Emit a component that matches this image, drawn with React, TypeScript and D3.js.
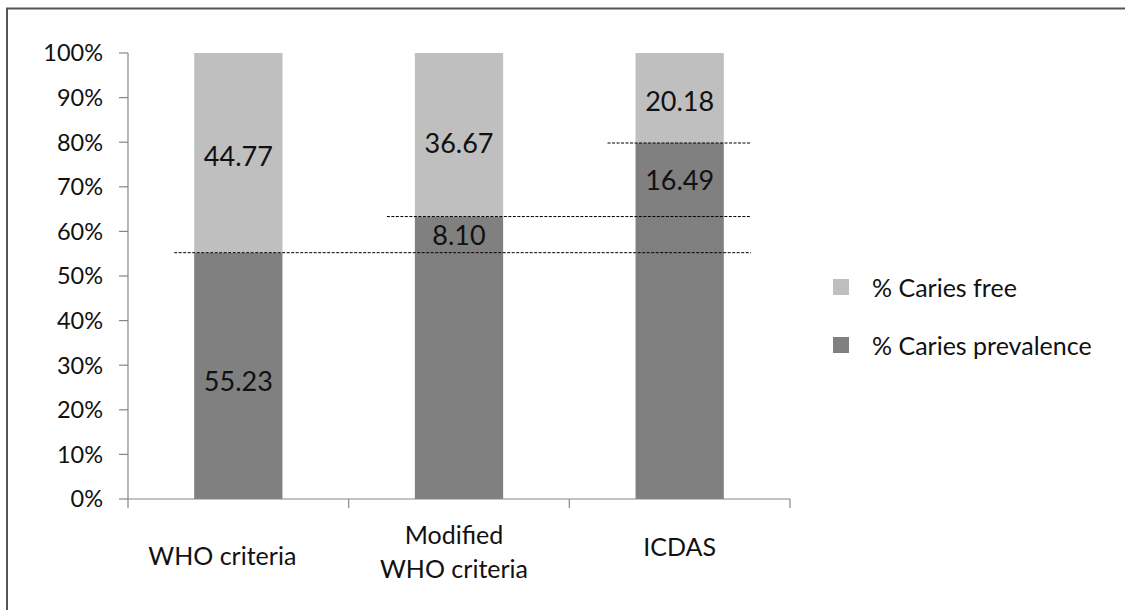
import React from "react";
import * as d3 from "d3";

// Categories (multi-line axis labels)
const categories: string[][] = [["WHO criteria"], ["Modified", "WHO criteria"], ["ICDAS"]];
// Increase in caries prevalence added by each criterion (first is the base value)
const prevalenceIncrements: number[] = [55.23, 8.1, 16.49];
// Caries free percentage for each criterion
const cariesFree: number[] = [44.77, 36.67, 20.18];
// Y tick values (percent)
const yTicks: number[] = [0, 10, 20, 30, 40, 50, 60, 70, 80, 90, 100];
// Legend entries
const legendLabels: string[] = ["% Caries free", "% Caries prevalence"];

const W = 1125;
const H = 610;
const FONT = "Lato, 'Open Sans', sans-serif";
const LIGHT = "#bfbfbf";
const DARK = "#808080";
const AXIS = "#868686";
const TEXT = "#111";

export default function App() {
  const x = d3
    .scaleBand<number>()
    .domain(categories.map((_, i) => i))
    .range([128, 790])
    .paddingInner(0.6)
    .paddingOuter(0.3);
  const step = x.step();
  const y = d3.scaleLinear().domain([0, 100]).range([499, 53]);

  const prevalence = Array.from(d3.cumsum(prevalenceIncrements));
  const prevStart = prevalence.map((v, i) => (i === 0 ? 0 : prevalence[i - 1]));

  // Boundaries of the category bands for the x axis ticks
  const boundaries = d3.range(categories.length + 1).map((i) => 128 + i * step);

  // Label placement tweaks for the category text blocks
  const labelShift = [
    { dx: -16, base: 565 },
    { dx: -5, base: 544 },
    { dx: 0, base: 556 },
  ];

  const xFmt = (v: number) => v.toFixed(2);

  return (
    <svg
      width={W}
      height={H}
      style={{ position: "fixed", left: 0, top: 0, background: "#fff" }}
      fontFamily={FONT}
    >
      {/* outer frame, clipped at the right and bottom */}
      <rect x={7} y={8.5} width={W + 20} height={H + 20} fill="#fff" stroke="#555" strokeWidth={2} />

      {/* bars */}
      {categories.map((_, i) => {
        const bx = x(i)!;
        const bw = x.bandwidth();
        return (
          <g key={"bar" + i}>
            <rect x={bx} y={y(prevalence[i])} width={bw} height={y(0) - y(prevalence[i])} fill={DARK} />
            <rect
              x={bx}
              y={y(prevalence[i] + cariesFree[i])}
              width={bw}
              height={y(prevalence[i]) - y(prevalence[i] + cariesFree[i])}
              fill={LIGHT}
            />
          </g>
        );
      })}

      {/* dashed reference lines at each cumulative prevalence level */}
      {prevalence.map((v, i) => (
        <line
          key={"ref" + i}
          x1={x(i)! - (i === 0 ? 20 : 28)}
          x2={751}
          y1={y(v)}
          y2={y(v)}
          stroke="#000"
          strokeWidth={1}
          strokeDasharray="3,1.5"
        />
      ))}

      {/* value labels */}
      {categories.map((_, i) => {
        const cx = x(i)! + x.bandwidth() / 2;
        const freeMid = (y(prevalence[i]) + y(prevalence[i] + cariesFree[i])) / 2;
        const prevMid = (y(prevStart[i]) + y(prevalence[i])) / 2;
        return (
          <g key={"lab" + i} fontSize={27} fill={TEXT} textAnchor="middle">
            <text x={cx} y={freeMid + (i === 1 ? 9 : 3)} dy="0.36em">
              {xFmt(cariesFree[i])}
            </text>
            <text x={cx} y={prevMid + (i === 0 ? 5 : 1)} dy="0.36em">
              {xFmt(prevalenceIncrements[i])}
            </text>
          </g>
        );
      })}

      {/* y axis */}
      <line x1={128} x2={128} y1={y(100)} y2={y(0)} stroke={AXIS} strokeWidth={1.2} />
      {yTicks.map((t) => (
        <g key={"yt" + t}>
          <line x1={119} x2={128} y1={y(t)} y2={y(t)} stroke={AXIS} strokeWidth={1.2} />
          <text x={103} y={y(t)} dy="0.36em" textAnchor="end" fontSize={23.5} fill={TEXT}>
            {t}%
          </text>
        </g>
      ))}

      {/* x axis */}
      <line x1={128} x2={790} y1={y(0)} y2={y(0)} stroke={AXIS} strokeWidth={1.2} />
      {boundaries.map((bx, i) => (
        <line key={"xt" + i} x1={bx} x2={bx} y1={y(0)} y2={y(0) + 9} stroke={AXIS} strokeWidth={1.2} />
      ))}
      {categories.map((lines, i) => {
        const cx = x(i)! + x.bandwidth() / 2 + labelShift[i].dx;
        return (
          <text key={"cat" + i} textAnchor="middle" fontSize={25} fill={TEXT}>
            {lines.map((ln, j) => (
              <tspan key={j} x={cx} y={labelShift[i].base + j * 34}>
                {ln}
              </tspan>
            ))}
          </text>
        );
      })}

      {/* legend */}
      {legendLabels.map((lab, i) => (
        <g key={"lg" + i} transform={`translate(833, ${279 + i * 58})`}>
          <rect width={16} height={16} fill={i === 0 ? LIGHT : DARK} />
          <text x={39} y={9} dy="0.36em" fontSize={25} fill={TEXT}>
            {lab}
          </text>
        </g>
      ))}
    </svg>
  );
}
